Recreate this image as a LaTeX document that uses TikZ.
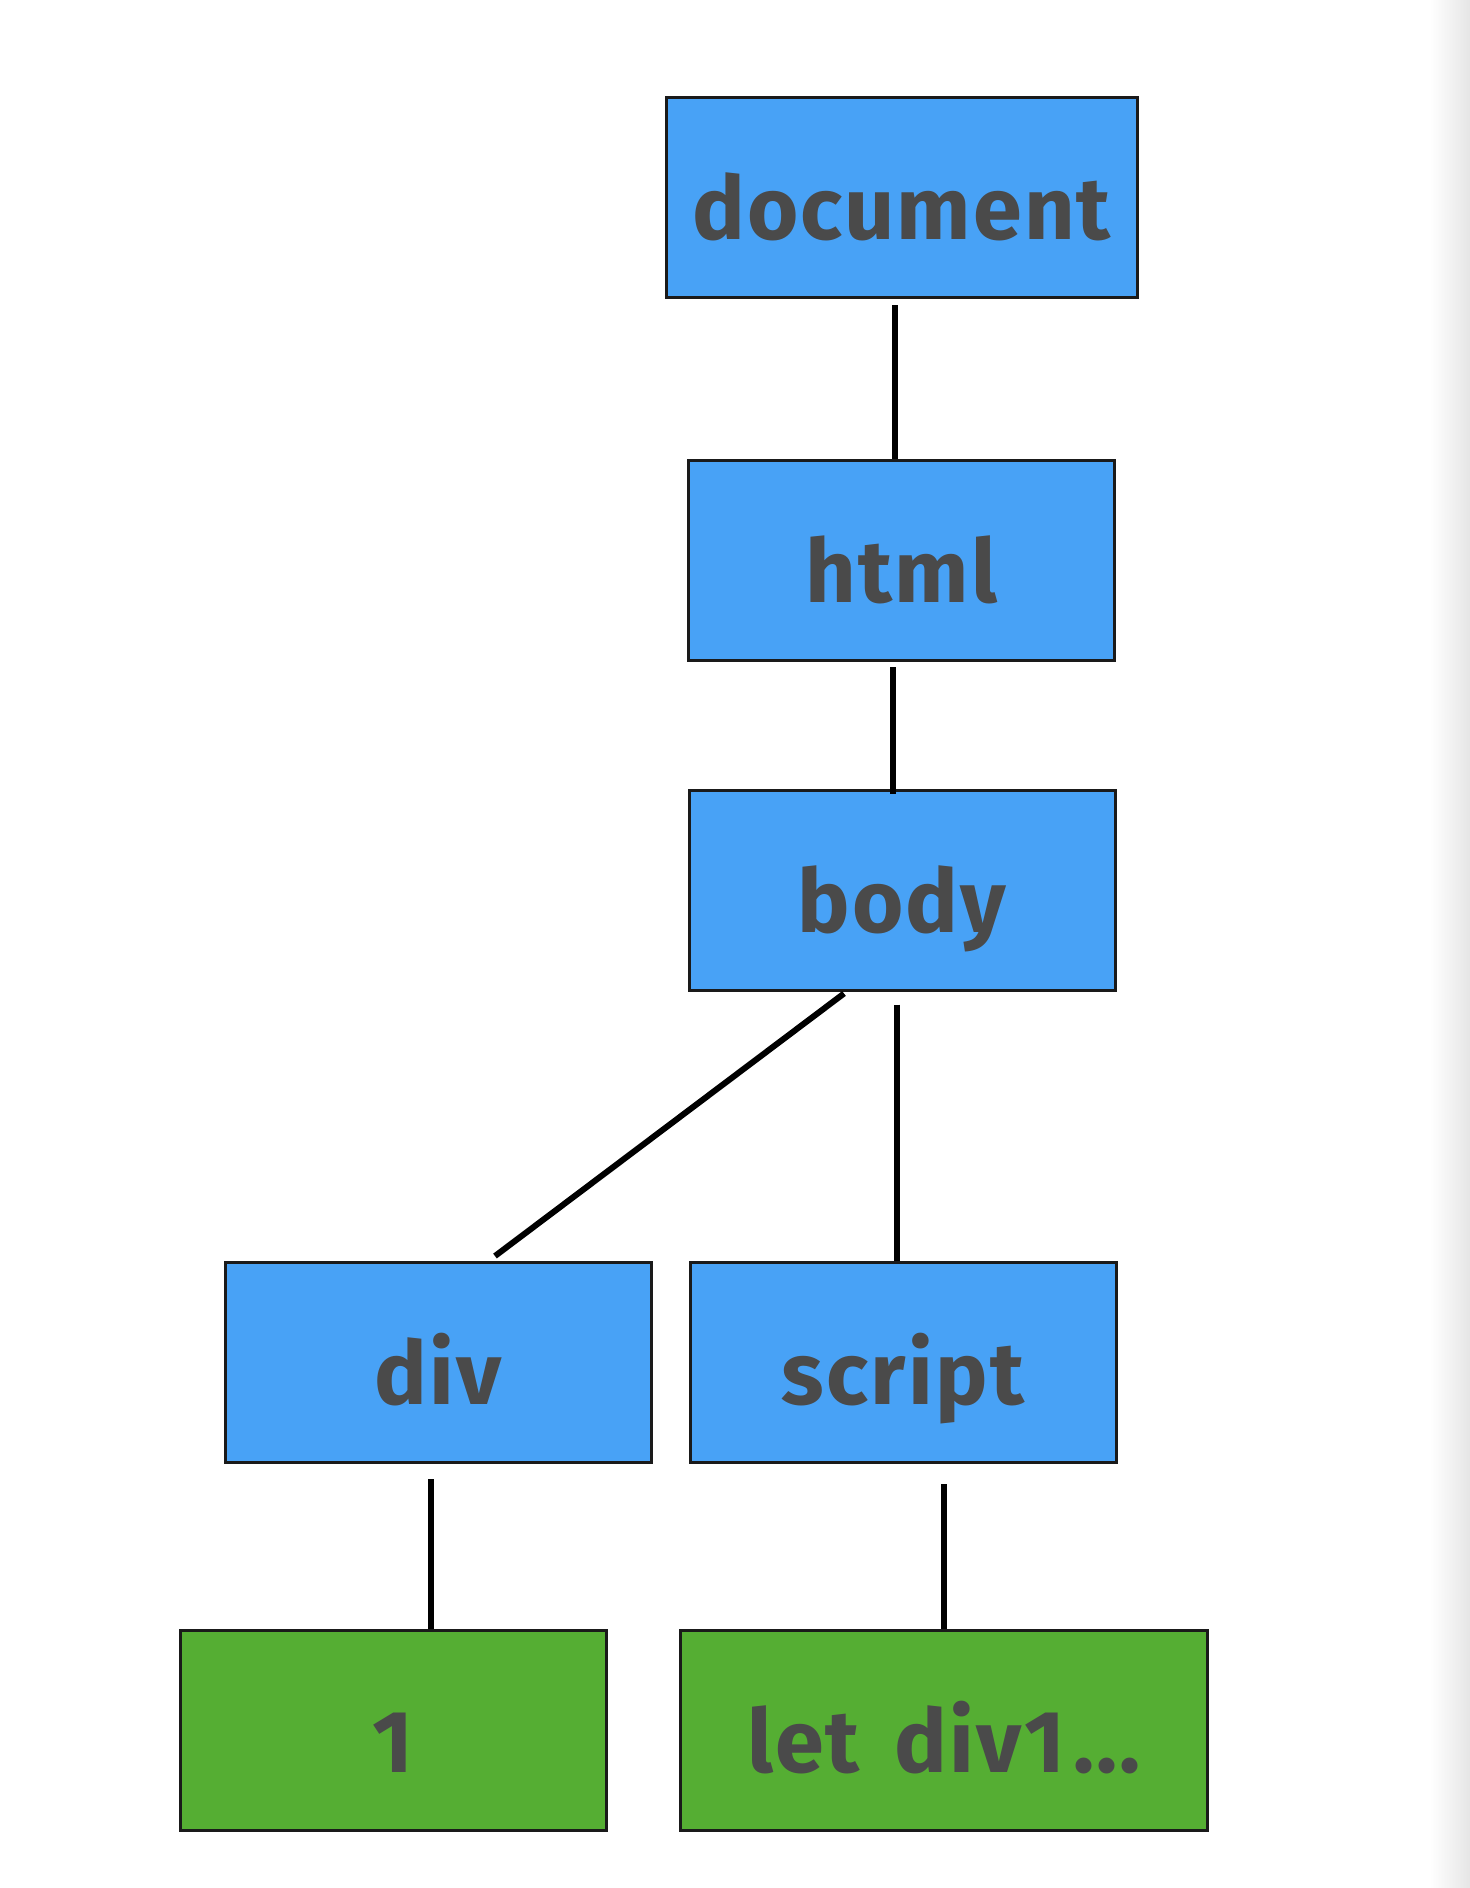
\documentclass[tikz,border=0pt]{standalone}
\usepackage{fontspec}
\setmainfont{Fira Sans}[LetterSpace=2.5]
\usetikzlibrary{calc}
\definecolor{boxblue}{HTML}{48A2F6}
\definecolor{boxgreen}{HTML}{55AE33}
\definecolor{txt}{HTML}{4A4A4A}
\definecolor{edge}{HTML}{1A1A1A}
\tikzset{
  treebox/.style={draw=edge, line width=3pt, rectangle, inner sep=0pt,
    minimum height=200pt, text height=100pt, text depth=16pt,
    text=txt, font=\fontsize{88}{100}\selectfont\bfseries},
  bluebox/.style={treebox, fill=boxblue, minimum width=426pt},
  greenbox/.style={treebox, fill=boxgreen},
  link/.style={draw=black, line width=6pt}
}
\begin{document}
\begin{tikzpicture}[x=1pt,y=-1pt]
\useasboundingbox (0,0) rectangle (1470,1888);
\fill[white] (0,0) rectangle (1470,1888);
\shade[left color=white, right color=black!10] (1430,0) rectangle (1470,1888);

\node[bluebox, minimum width=471pt] (doc) at (901.5,197.5) {document};
\node[bluebox] (html) at (901.5,560.5) {html};
\node[bluebox] (body) at (902,890) {body};
\node[bluebox] (div) at (438,1362.5) {div};
\node[bluebox] (script) at (903,1362.5) {script};
\node[greenbox, minimum width=426pt] (one) at (393,1730) {1};
\node[greenbox, minimum width=527pt] (let) at (944,1730) {let\hspace{12pt} div1\hspace{8pt}...};

\draw[link] ([xshift=-6.5pt,yshift=-6pt]doc.south) -- ([xshift=-6.5pt]html.north);
\draw[link] ([xshift=-8.5pt,yshift=-5pt]html.south) -- ([xshift=-9pt,yshift=-5pt]body.north);
\draw[link] ([xshift=-58pt,yshift=-2pt]body.south) -- ([xshift=57pt,yshift=5pt]div.north);
\draw[link] ([xshift=-5pt,yshift=-13pt]body.south) -- ([xshift=-6pt]script.north);
\draw[link] ([xshift=-7pt,yshift=-15pt]div.south) -- ([xshift=38pt]one.north);
\draw[link] ([xshift=41pt,yshift=-20pt]script.south) -- (let.north);
\end{tikzpicture}
\end{document}
